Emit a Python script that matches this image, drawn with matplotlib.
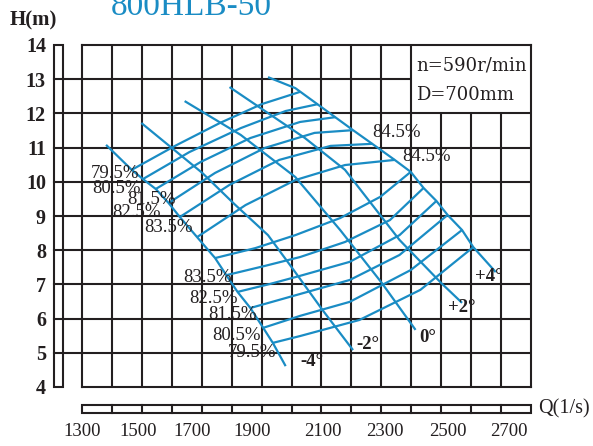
import numpy as np
import matplotlib.pyplot as plt

blue = '#1a8cc4'
ink = '#231f20'
serif = 'Liberation Serif'

# H-Q curves for each blade angle
angle_names = ['-4°', '-2°', '0°', '+2°', '+4°']
angle_q = [
    [1375, 1455, 1490, 1530, 1570, 1605, 1715, 1750, 1785, 1825, 1865, 1895, 1935],
    [1485, 1675, 1775, 1880, 1960, 2050, 2145],
    [1620, 1795, 1965, 2105, 2235, 2340],
    [1760, 1995, 2120, 2290, 2420, 2485],
    [1880, 1965, 2050, 2145, 2205, 2275, 2325, 2365, 2405, 2440, 2485, 2520, 2590],
]
angle_h = [
    [11.08, 10.35, 10.08, 9.79, 9.38, 8.97, 7.77, 7.27, 6.78, 6.31, 5.73, 5.29, 4.61],
    [11.72, 10.26, 9.35, 8.44, 7.42, 6.25, 5.08],
    [12.36, 11.37, 10.14, 8.59, 7.04, 5.67],
    [12.77, 11.28, 10.35, 8.30, 7.04, 6.46],
    [13.06, 12.74, 12.16, 11.51, 11.11, 10.64, 10.29, 9.82, 9.44, 9.03, 8.59, 8.09, 7.36],
]
angle_label_q = [1980, 2155, 2350, 2440, 2525]
angle_label_h = [4.76, 5.23, 5.46, 6.31, 7.22]

# efficiency lines, upper branches (79.5 .. 84.5)
eff_upper_q = [
    [1455, 1590, 1730, 1860, 1980],
    [1490, 1635, 1795, 1935, 2035],
    [1530, 1670, 1825, 1980, 2090],
    [1570, 1715, 1870, 2025, 2145],
    [1605, 1760, 1915, 2075, 2205],
    [1660, 1810, 1965, 2120, 2275],
]
eff_upper_h = [
    [10.35, 11.05, 11.72, 12.27, 12.63],
    [10.08, 10.87, 11.57, 12.07, 12.27],
    [9.79, 10.58, 11.28, 11.75, 11.89],
    [9.38, 10.26, 10.99, 11.43, 11.51],
    [8.97, 9.91, 10.64, 11.05, 11.11],
    [8.39, 9.32, 10.05, 10.49, 10.64],
]
# efficiency lines, lower branches (84.5 .. 79.5)
eff_lower_q = [
    [1715, 1840, 1965, 2105, 2230, 2325],
    [1750, 1870, 1980, 2120, 2260, 2365],
    [1785, 1885, 1980, 2135, 2290, 2405],
    [1825, 1980, 2135, 2290, 2440],
    [1865, 1980, 2135, 2325, 2485],
    [1895, 1980, 2165, 2355, 2520],
]
eff_lower_h = [
    [7.77, 8.06, 8.44, 8.94, 9.56, 10.29],
    [7.27, 7.54, 7.80, 8.24, 8.88, 9.82],
    [6.78, 7.01, 7.25, 7.66, 8.44, 9.44],
    [6.31, 6.72, 7.13, 7.86, 9.03],
    [5.73, 6.08, 6.49, 7.42, 8.59],
    [5.29, 5.49, 5.96, 6.84, 8.09],
]
eff_label_text = ['79.5%', '80.5%', '81.5%', '82.5%', '83.5%',
                  '83.5%', '82.5%', '81.5%', '80.5%', '79.5%', '84.5%', '84.5%']
eff_label_q = [1328, 1331, 1440, 1395, 1495, 1615, 1635, 1695, 1705, 1755, 2205, 2300]
eff_label_h = [10.23, 9.79, 9.47, 9.09, 8.65, 7.19, 6.60, 6.11, 5.52, 5.02, 11.43, 10.73]

xtick_text = ['1300', '1500', '1700', '1900', '2100', '2300', '2500', '2700']
xtick_pos = [1300, 1475, 1645, 1830, 2050, 2245, 2440, 2630]
ytick_vals = list(range(4, 15))

q_min, q_max = 1300, 2700
h_min, h_max = 4, 14
n_cols = 15

fig = plt.figure(figsize=(5.93, 4.46), dpi=100)
ax = fig.add_axes([82 / 593, 59 / 446, 449 / 593, 342 / 446])
ax.set_xlim(q_min, q_max)
ax.set_ylim(h_min, h_max)

# grid, with the speed/diameter box cut out of the top right corner
grid_q = np.linspace(q_min, q_max, n_cols + 1)
for k, q in enumerate(grid_q[1:-1], 1):
    top = 12 if k > 11 else h_max
    ax.vlines(q, h_min, top, color=ink, lw=1.5)
for h in range(h_min + 1, h_max):
    right = grid_q[11] if h == 13 else q_max
    ax.hlines(h, q_min, right, color=ink, lw=1.5)
for s in ax.spines.values():
    s.set_color(ink)
    s.set_linewidth(1.5)

# scale strip on the left
ty = ax.get_yaxis_transform()
sx0, sx1 = -0.0624, -0.0423
ax.add_patch(plt.Rectangle((sx0, h_min), sx1 - sx0, h_max - h_min, transform=ty,
                           fill=False, ec=ink, lw=1.5, clip_on=False))
for h in range(h_min + 1, h_max):
    ax.plot([sx0, 0], [h, h], transform=ty, color=ink, lw=1.5, clip_on=False)

# scale strip at the bottom
tx = ax.get_xaxis_transform()
by0, by1 = -0.076, -0.0526
ax.add_patch(plt.Rectangle((q_min, by0), q_max - q_min, by1 - by0, transform=tx,
                           fill=False, ec=ink, lw=1.5, clip_on=False))
for q in grid_q[1:-1]:
    ax.plot([q, q], [by0, by1], transform=tx, color=ink, lw=1.5, clip_on=False)

# curves
for qs, hs in zip(angle_q, angle_h):
    ax.plot(qs, hs, color=blue, lw=1.6, solid_capstyle='butt')
for qs, hs in zip(eff_upper_q + eff_lower_q, eff_upper_h + eff_lower_h):
    ax.plot(qs, hs, color=blue, lw=1.6, solid_capstyle='butt')

for t, q, h in zip(eff_label_text, eff_label_q, eff_label_h):
    ax.text(q, h, t, ha='left', va='center', family=serif, fontsize=13.5, color=ink)
for t, q, h in zip(angle_names, angle_label_q, angle_label_h):
    ax.text(q, h, t, ha='left', va='center', family=serif, fontsize=13.5,
            fontweight='bold', color=ink)

ax.text(2341, 13.39, 'n=590r/min', ha='left', va='center', family='DejaVu Serif',
        fontsize=13, color=ink)
ax.text(2341, 12.54, 'D=700mm', ha='left', va='center', family='DejaVu Serif',
        fontsize=13, color=ink)

ax.set_yticks(ytick_vals)
ax.set_yticklabels([str(v) for v in ytick_vals], family=serif, fontweight='bold',
                   fontsize=14.5, color=ink)
ax.set_xticks(xtick_pos)
ax.set_xticklabels(xtick_text, family=serif, fontsize=13.5, color=ink)
ax.tick_params(axis='y', length=0, pad=26)
ax.tick_params(axis='x', length=0, pad=26)

ax.text(1.016, -0.064, 'Q(1/s)', transform=ax.transAxes, ha='left', va='center',
        family=serif, fontsize=14.5, color=ink)
fig.text(10 / 593, 1 - 20 / 446, 'H(m)', ha='left', va='center', family=serif,
         fontweight='bold', fontsize=15, color=ink)
fig.text(191 / 593, 1 - 15 / 446, '800HLB-50', ha='center', va='baseline',
         family=serif, fontsize=24, color=blue)

fig.savefig('out.png', dpi=100)
